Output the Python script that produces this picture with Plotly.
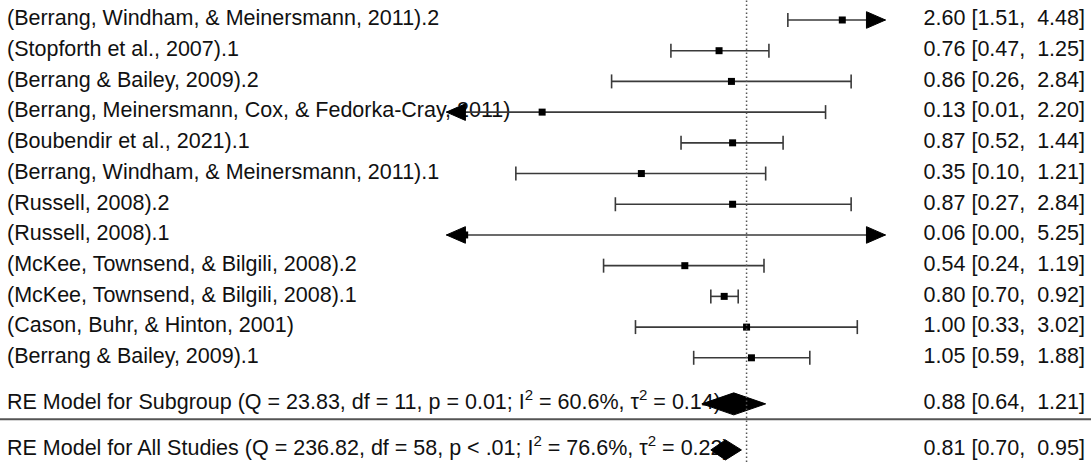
import math
import plotly.graph_objects as go

# ---------------- data ----------------
labels = [
    "(Berrang, Windham, & Meinersmann, 2011).2",
    "(Stopforth et al., 2007).1",
    "(Berrang & Bailey, 2009).2",
    "(Berrang, Meinersmann, Cox, & Fedorka-Cray, 2011)",
    "(Boubendir et al., 2021).1",
    "(Berrang, Windham, & Meinersmann, 2011).1",
    "(Russell, 2008).2",
    "(Russell, 2008).1",
    "(McKee, Townsend, & Bilgili, 2008).2",
    "(McKee, Townsend, & Bilgili, 2008).1",
    "(Cason, Buhr, & Hinton, 2001)",
    "(Berrang & Bailey, 2009).1",
]
estimates = [2.60, 0.76, 0.86, 0.13, 0.87, 0.35, 0.87, 0.06, 0.54, 0.80, 1.00, 1.05]
ci_lower = [1.51, 0.47, 0.26, 0.01, 0.52, 0.10, 0.27, 0.00, 0.24, 0.70, 0.33, 0.59]
ci_upper = [4.48, 1.25, 2.84, 2.20, 1.44, 1.21, 2.84, 5.25, 1.19, 0.92, 3.02, 1.88]

summary_labels = [
    "RE Model for Subgroup (Q = 23.83, df = 11, p = 0.01; I<sup>2</sup> = 60.6%, τ<sup>2</sup> = 0.14)",
    "RE Model for All Studies (Q = 236.82, df = 58, p < .01; I<sup>2</sup> = 76.6%, τ<sup>2</sup> = 0.22)",
]
summary_est = [0.88, 0.81]
summary_lower = [0.64, 0.70]
summary_upper = [1.21, 0.95]

# ---------------- layout constants ----------------
W, H = 1091, 462
X_RANGE = [-3.236, 1.493]          # log10 range of the x axis
Y_RANGE = [-0.393, 14.651]
CLIP_LO, CLIP_HI = 0.05, 4.0        # arrows beyond these limits
PX_PER_DEC = W / (X_RANGE[1] - X_RANGE[0])
PX_PER_ROW = H / (Y_RANGE[1] - Y_RANGE[0])
FONT = "Liberation Sans, Arial, sans-serif"
FS = 21.5
LINE_COL = "#3a3a3a"

n = len(labels)
study_y = [n + 2 - i for i in range(n)]   # 14 ... 3
summary_y = [1.5, 0.0]
hline_y = 1.0


def px2log(px):
    return X_RANGE[0] + px / PX_PER_DEC


def fmt(e, lo, hi):
    return f"{e:.2f} [{lo:.2f},\u00a0\u00a0{hi:.2f}]"


fig = go.Figure()

# text columns (as traces so the diamonds can overlap them)
x_left = 10 ** px2log(7)
x_right = 10 ** px2log(1085)
fig.add_trace(go.Scatter(
    x=[x_left] * (n + 2), y=study_y + summary_y, mode="text",
    text=labels + summary_labels, textposition="middle right",
    textfont=dict(family=FONT, size=FS, color="#111111"),
    hoverinfo="skip", showlegend=False))
fig.add_trace(go.Scatter(
    x=[x_right] * (n + 2), y=study_y + summary_y, mode="text",
    text=[fmt(e, l, u) for e, l, u in zip(estimates, ci_lower, ci_upper)]
    + [fmt(e, l, u) for e, l, u in zip(summary_est, summary_lower, summary_upper)],
    textposition="middle left",
    textfont=dict(family=FONT, size=FS, color="#111111"),
    hoverinfo="skip", showlegend=False))

# CI lines, caps and arrows
cap_h = 7 / PX_PER_ROW
arr_h = 8.3 / PX_PER_ROW
arr_len = 19 / PX_PER_DEC
lx, ly, cx, cy = [], [], [], []
ax_, ay_ = [], []
for y, lo, hi in zip(study_y, ci_lower, ci_upper):
    lo_c = max(lo, CLIP_LO)
    hi_c = min(hi, CLIP_HI)
    lx += [lo_c, hi_c, None]
    ly += [y, y, None]
    if lo >= CLIP_LO:
        cx += [lo, lo, None]
        cy += [y - cap_h, y + cap_h, None]
    else:
        b = 10 ** (math.log10(CLIP_LO) + arr_len)
        ax_ += [CLIP_LO, b, b, CLIP_LO, None]
        ay_ += [y, y + arr_h, y - arr_h, y, None]
    if hi <= CLIP_HI:
        cx += [hi, hi, None]
        cy += [y - cap_h, y + cap_h, None]
    else:
        b = 10 ** (math.log10(CLIP_HI) - arr_len)
        ax_ += [CLIP_HI, b, b, CLIP_HI, None]
        ay_ += [y, y + arr_h, y - arr_h, y, None]

fig.add_trace(go.Scatter(x=lx, y=ly, mode="lines",
                         line=dict(color=LINE_COL, width=1.6),
                         hoverinfo="skip", showlegend=False))
fig.add_trace(go.Scatter(x=cx, y=cy, mode="lines",
                         line=dict(color=LINE_COL, width=1.6),
                         hoverinfo="skip", showlegend=False))
fig.add_trace(go.Scatter(x=ax_, y=ay_, mode="lines", fill="toself",
                         fillcolor="black", line=dict(color="black", width=1),
                         hoverinfo="skip", showlegend=False))

# point estimates
fig.add_trace(go.Scatter(x=estimates, y=study_y, mode="markers",
                         marker=dict(symbol="square", size=7, color="black"),
                         hoverinfo="skip", showlegend=False))

# summary diamonds
dh = [11 / PX_PER_ROW, 10 / PX_PER_ROW]
for y, e, lo, hi, h in zip(summary_y, summary_est, summary_lower, summary_upper, dh):
    fig.add_trace(go.Scatter(x=[lo, e, hi, e, lo], y=[y, y + h, y, y - h, y],
                             mode="lines", fill="toself", fillcolor="black",
                             line=dict(color="black", width=1),
                             hoverinfo="skip", showlegend=False))

# reference line at 1 and separator
fig.add_shape(type="line", xref="x", yref="paper", x0=1, x1=1, y0=0, y1=1,
              line=dict(color="#555555", width=1.5, dash="1.5px,2.5px"))
fig.add_shape(type="line", xref="paper", yref="y", x0=0, x1=1,
              y0=hline_y, y1=hline_y, line=dict(color="#555555", width=2))

fig.update_layout(
    width=W, height=H, margin=dict(l=0, r=0, t=0, b=0),
    paper_bgcolor="white", plot_bgcolor="white",
    xaxis=dict(type="log", range=X_RANGE, visible=False, fixedrange=True),
    yaxis=dict(range=Y_RANGE, visible=False, fixedrange=True),
    hovermode=False,
)

fig.write_html("out.html", config={"displayModeBar": False},
               post_script="document.body.style.margin='0';")
